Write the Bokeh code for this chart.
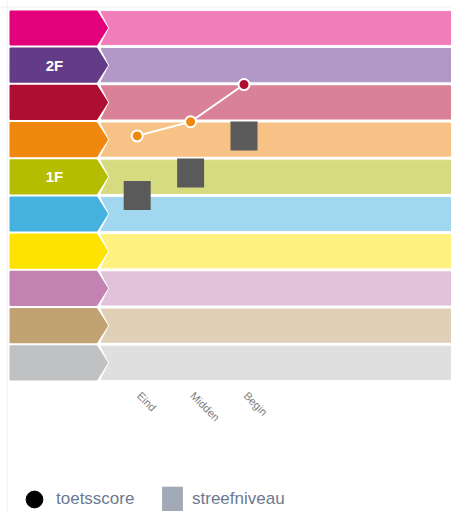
import numpy as np
from bokeh.plotting import figure
from bokeh.models import Legend, LegendItem, Range1d, Span
from bokeh.embed import file_html
from bokeh.resources import INLINE
from bokeh.core.properties import value

# ---------------- data ----------------
# levels, listed from top to bottom as shown
level_labels = ["", "2F", "", "", "1F", "", "", "", "", ""]
level_dark = ["#E3007B", "#633B87", "#AE0E32", "#F0870F", "#B4BD00",
              "#45B1DF", "#FFE300", "#C383B2", "#C2A272", "#C0C1C3"]
level_light = ["#F17DB9", "#B198C6", "#D98297", "#F7C286", "#D7DB80",
               "#A1D7EF", "#FEF180", "#E2C1DA", "#E0D0B7", "#DFDFE0"]

moments = ["Eind", "Midden", "Begin"]
toetsscore = [6.6, 6.98, 7.98]
streefniveau = [5.0, 5.6, 6.6]

# ---------------- layout ----------------
W, H = 451, 511
PX_X = 53.4          # px per category step
X0 = 136.7           # px of first category from figure left
PX_Y = 37.2          # px per level
Y05 = 362.3          # px (from figure top) of value 0.5

def xd(px):          # figure px -> data x
    return (px - X0) / PX_X

def yd(py):          # figure px (from top) -> data y
    return 0.5 + (Y05 - py) / PX_Y

p = figure(width=W, height=H, output_backend="svg", toolbar_location=None,
           x_range=Range1d(xd(0), xd(W)), y_range=Range1d(yd(H), yd(0)),
           x_axis_location=None, y_axis_location=None, min_border=0)
p.outline_line_color = None
p.grid.visible = False
p.background_fill_color = "white"
p.border_fill_color = "white"

# faint chart container border
p.add_layout(Span(location=xd(6.5), dimension="height", line_color="#F0F0F0", line_width=1))
p.add_layout(Span(location=yd(6.5), dimension="width", line_color="#F0F0F0", line_width=1))

n = len(level_labels)
half = 16.6 / PX_Y
L0, L1, TIP = xd(10), xd(96), xd(106.5)          # label arrow
B0, NOTCH, BR = xd(100.5), xd(109), xd(W + 20)   # light band

arrow_xs, arrow_ys, band_xs, band_ys = [], [], [], []
lab_x, lab_y = [], []
for i in range(n):
    c = (n - 1 - i) + 0.5
    top, bot = c + half, c - half
    arrow_xs.append([L0, L1, TIP, L1, L0])
    arrow_ys.append([top, top, c, bot, bot])
    band_xs.append([B0, BR, BR, B0, NOTCH])
    band_ys.append([top, top, bot, bot, c])
    lab_x.append(xd(54))
    lab_y.append(c)

p.patches(band_xs, band_ys, fill_color=level_light, line_color=level_light, line_width=1)
p.patches(arrow_xs, arrow_ys, fill_color=level_dark, line_color=level_dark,
          line_width=2, line_join="round")
p.text(lab_x, lab_y, text=level_labels, text_color="white", text_font=value("Liberation Sans"),
       text_font_style="bold", text_font_size="15px", text_align="center",
       text_baseline="middle")

xs = list(range(len(moments)))

# streefniveau squares
p.rect(xs, streefniveau, width=27, height=29, width_units="screen", height_units="screen",
       fill_color="#5A5A5A", line_color=None)

# toetsscore line + points (colour of the level it falls in)
pt_colors = [level_dark[n - 1 - int(np.floor(v))] for v in toetsscore]
p.line(xs, toetsscore, line_color="white", line_width=2)
p.scatter(xs, toetsscore, size=11, fill_color=pt_colors, line_color="white", line_width=2)

# category labels
p.text(xs, [yd(389)] * len(xs), text=moments, angle=-np.pi / 4,
       text_align="left", text_baseline="top", text_color="#808080",
       text_font=value("Liberation Sans"), text_font_size="11px", x_offset=6)

# legend (legend-only renderers, not drawn in the plot area)
r_c = p.scatter([np.nan], [np.nan], marker="circle", fill_color="black", line_color="black")
r_s = p.rect([np.nan], [np.nan], width=1, height=1, fill_color="#A0A9B5", line_color=None)

common = dict(background_fill_alpha=0, border_line_color=None, padding=0, margin=0,
              label_text_font="Liberation Sans", label_text_font_size="17px",
              label_text_color="#6B7A8F", orientation="horizontal")
leg1 = Legend(items=[LegendItem(label="toetsscore", renderers=[r_c])],
              glyph_width=42, glyph_height=42, label_standoff=1,
              location=(13, -9), **common)
leg2 = Legend(items=[LegendItem(label="streefniveau", renderers=[r_s])],
              glyph_width=26, glyph_height=32, label_standoff=7,
              location=(159, -4), **common)
p.add_layout(leg1)
p.add_layout(leg2)

open("out.html", "w").write(file_html(p, INLINE))
